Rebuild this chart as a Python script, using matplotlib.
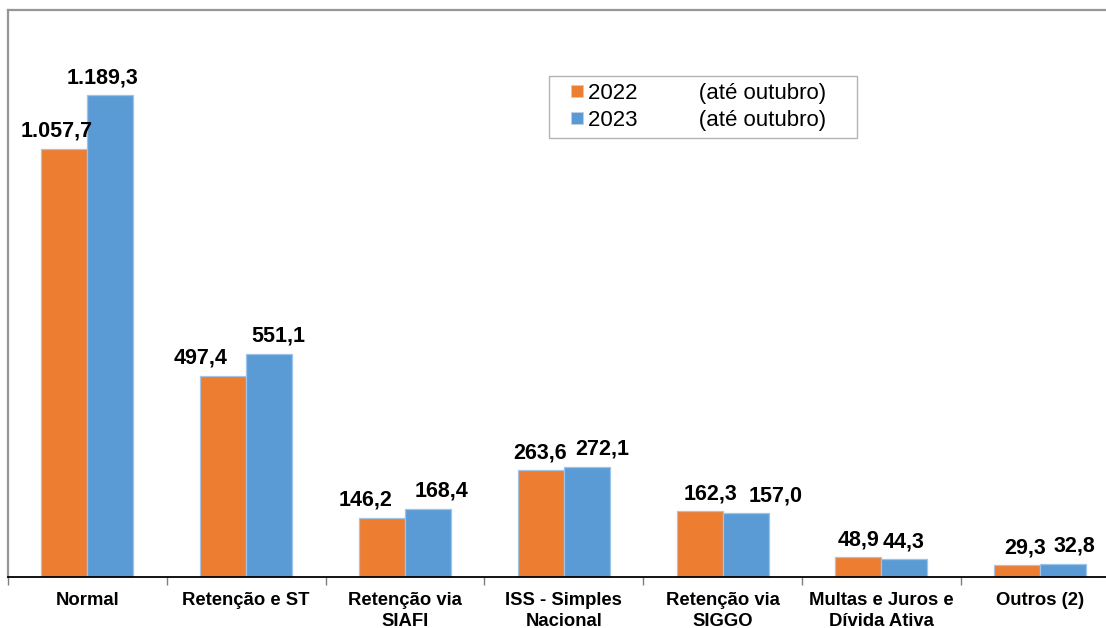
import matplotlib
matplotlib.use("Agg")
import matplotlib.pyplot as plt
from matplotlib.lines import Line2D
import numpy as np

categories = ["Normal", "Retenção e ST", "Retenção via\nSIAFI", "ISS - Simples\nNacional",
              "Retenção via\nSIGGO", "Multas e Juros e\nDívida Ativa", "Outros (2)"]
values_2022 = [1057.7, 497.4, 146.2, 263.6, 162.3, 48.9, 29.3]
values_2023 = [1189.3, 551.1, 168.4, 272.1, 157.0, 44.3, 32.8]
series_labels = ["2022          (até outubro)    ", "2023          (até outubro)    "]

# label x-offsets in pixels (layout only)
off_2022 = [-8, -23, -16, -1, 11, 0, 8]
off_2023 = [-8, 9, 13, 15, 30, -1, 11]

plt.rcParams['font.family'] = ['Liberation Sans', 'DejaVu Sans']

W, H = 1106, 628
fig = plt.figure(figsize=(W / 100, H / 100), dpi=100)
ax = fig.add_axes([8 / W, (H - 577) / H, 1111.6 / W, 567 / H])

x = np.arange(len(categories))
bw = 0.29
c22, c23 = '#ED7D31', '#5B9BD5'
b1 = ax.bar(x - bw / 2, values_2022, bw, color=c22, edgecolor='#A9C2E0', linewidth=0.9,
            zorder=2)
b2 = ax.bar(x + bw / 2, values_2023, bw, color=c23, edgecolor='#9DC3E6', linewidth=0.9,
            zorder=2)

def fmt(v):
    s = f"{v:,.1f}"
    return s.replace(',', 'X').replace('.', ',').replace('X', '.')

for bars, offs in ((b1, off_2022), (b2, off_2023)):
    for r, o in zip(bars, offs):
        ax.annotate(fmt(r.get_height()), (r.get_x() + r.get_width() / 2, r.get_height()),
                    xytext=(o, 12), textcoords='offset pixels', ha='center', va='baseline',
                    fontsize=15.5, fontweight='bold', color='black')

ax.set_xlim(-0.5, len(categories) - 0.5)
ax.set_ylim(0, 1400)
ax.set_yticks([])
ax.set_xticks(x)
ax.set_xticklabels(categories, fontsize=13.3, fontweight='bold', linespacing=1.3)
ax.set_xticks(np.arange(len(categories) + 1) - 0.5, minor=True)
ax.tick_params(axis='x', which='major', length=0, pad=11)
ax.tick_params(axis='x', which='minor', length=6, width=1, color='#7F7F7F')

for s in ['left', 'top']:
    ax.spines[s].set_color('#969696')
    ax.spines[s].set_linewidth(1.6)
ax.spines['right'].set_visible(False)
ax.spines['bottom'].set_color('black')
ax.spines['bottom'].set_linewidth(1.3)

handles = [Line2D([], [], linestyle='none', marker='s', markersize=8.6,
                  markerfacecolor=c, markeredgecolor='#BFCFE3', markeredgewidth=0.6)
           for c in (c22, c23)]
leg = ax.legend(handles, series_labels, loc='upper left', bbox_to_anchor=(549 / W, 1 - 76 / H),
                bbox_transform=fig.transFigure, fontsize=16, frameon=True, fancybox=False,
                edgecolor='#A0A0A0', handlelength=1.9, handletextpad=-0.45,
                labelspacing=0.28, borderpad=0.3, borderaxespad=0)
leg.get_frame().set_linewidth(1.0)

fig.savefig('out.png', dpi=100)
